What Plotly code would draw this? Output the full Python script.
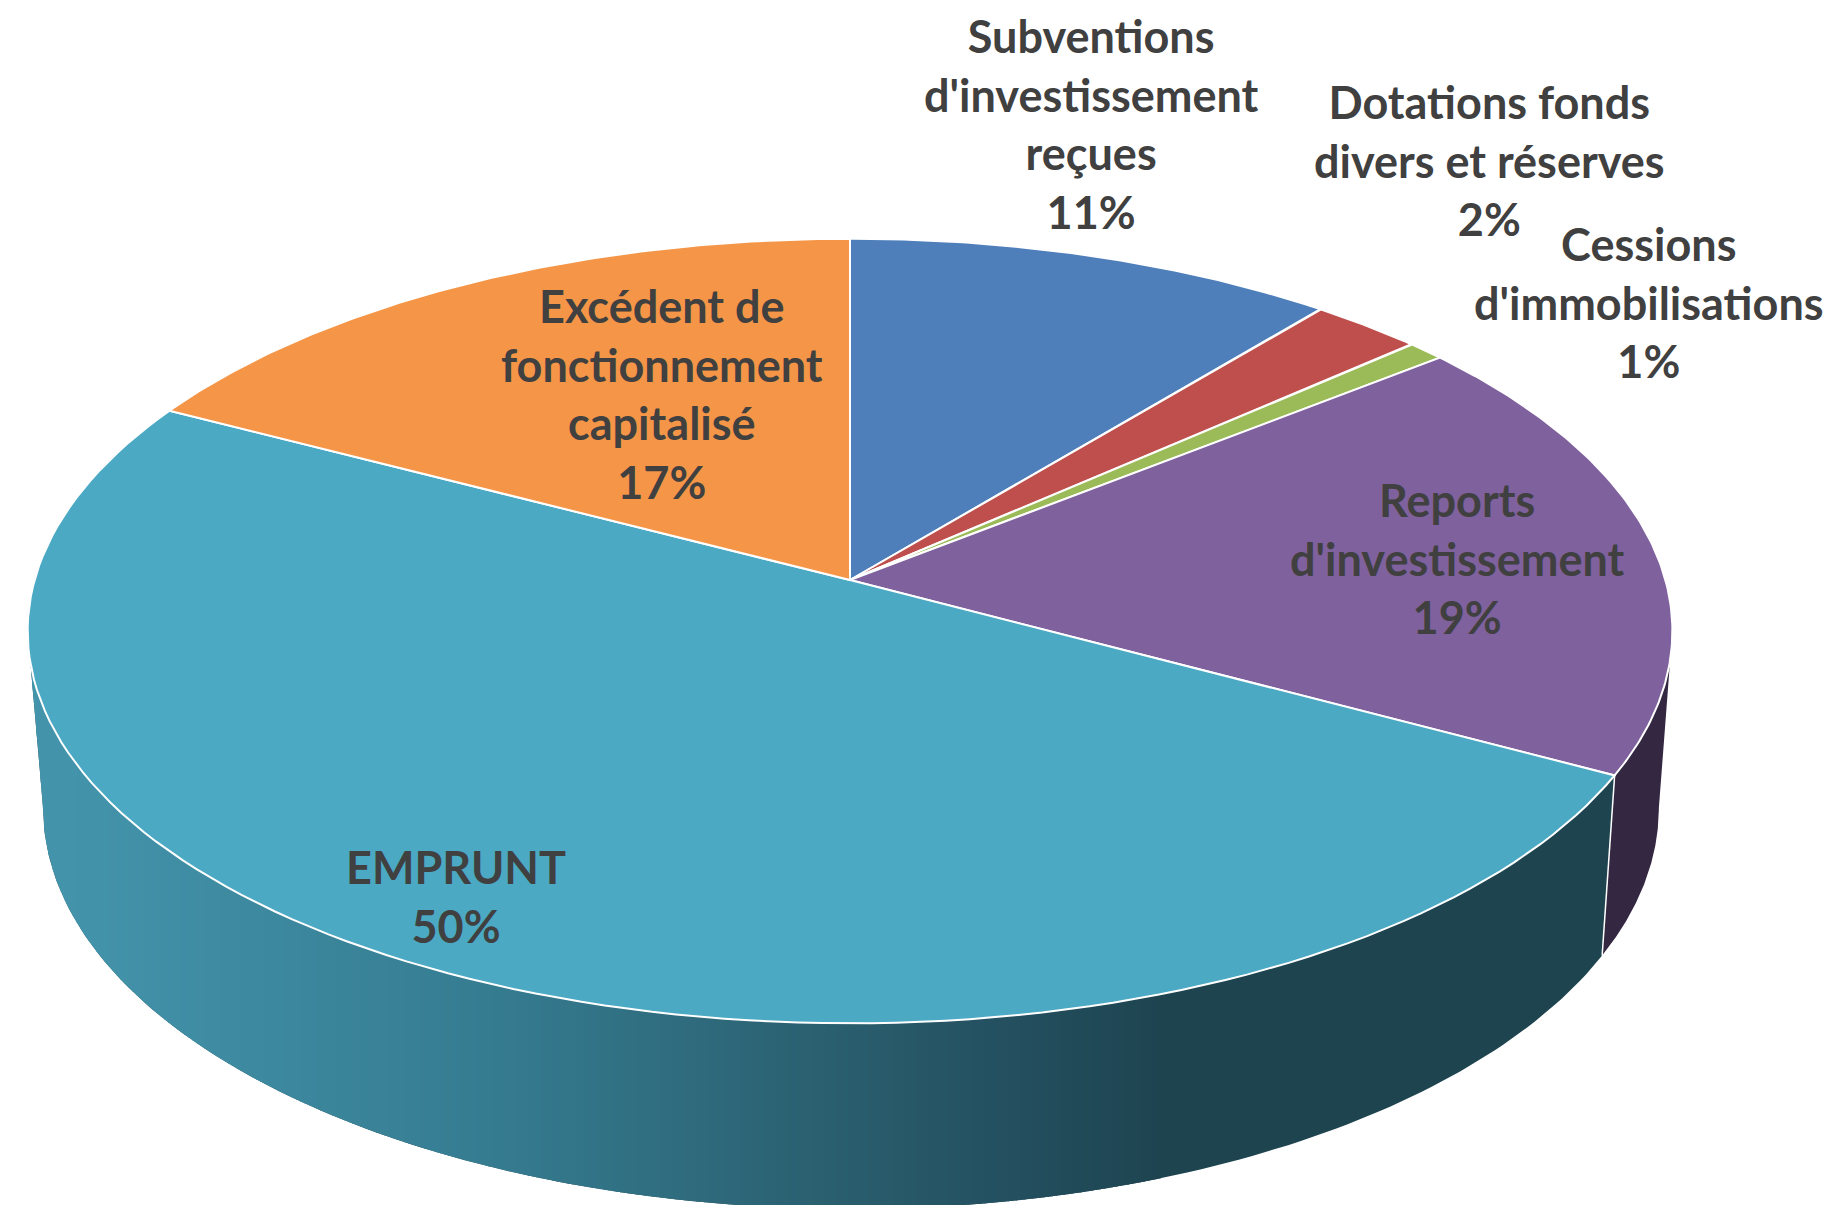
import numpy as np
import plotly.graph_objects as go

# Data (shares of the pie, percent, clockwise from 12 o'clock)
categories = ["Subventions<br>d'investissement<br>reçues", "Dotations fonds<br>divers et réserves",
              "Cessions<br>d'immobilisations", "Reports<br>d'investissement", "EMPRUNT",
              "Excédent de<br>fonctionnement<br>capitalisé"]
values = [10.95, 2.5, 0.85, 18.6, 49.85, 17.3]
colors = ["#4E7FBB", "#BE4F4C", "#9BBB59", "#7F619E", "#4BA9C4", "#F59547"]
wall_colors = ["#2A3F5C", "#5E2726", "#4D5D2C", "#332741", "#1E4450", "#7A4A23"]
label_x = [1091, 1489, 1649, 1457, 456, 662]
label_y = [124, 160, 302, 558, 896, 394]

# Projection of the top and bottom rims of the pie (perspective)
P = 0.13
TOP = dict(cx=850, cy=580, a=815.4, b=385.7)
BOT = dict(cx=851, cy=756, a=801, b=394)


def project(pct, rim=TOP):
    t = np.radians(np.asarray(pct, dtype=float) * 3.6)
    X, Y = np.sin(t), np.cos(t)
    w = 1 + P * Y
    return rim["cx"] + rim["a"] * X / w, rim["cy"] - rim["b"] * Y / w


GRAD_X = [0, 100, 500, 830, 1000, 1160]
GRAD_C = [(0x44, 0x96, 0xAD), (0x42, 0x92, 0xA9), (0x35, 0x7B, 0x90), (0x2A, 0x5F, 0x6F),
          (0x24, 0x50, 0x60), (0x1E, 0x44, 0x50)]


def grad(x):
    c = [int(round(np.interp(x, GRAD_X, [g[i] for g in GRAD_C]))) for i in range(3)]
    return f"rgb({c[0]},{c[1]},{c[2]})"


edges = np.concatenate([[0], np.cumsum(values)])
edges = edges * 100 / edges[-1]

fig = go.Figure()


def poly(xs, ys, fill, line=None, lw=0):
    fig.add_trace(go.Scatter(x=xs, y=ys, mode="lines", fill="toself", fillcolor=fill,
                             line=dict(color=line or fill, width=lw), hoverinfo="skip", showlegend=False))


# Side walls: the part facing the viewer lies between the two tangent points
tangent = np.degrees(np.arccos(-P)) / 3.6
W0, W1 = tangent, 100 - tangent
for i in range(len(values)):
    lo, hi = max(edges[i], W0), min(edges[i + 1], W1)
    if hi <= lo:
        continue
    ts = np.linspace(lo, hi, 160)
    xt, yt = project(ts, TOP)
    xb, yb = project(ts[::-1], BOT)
    poly(list(xt) + list(xb), list(yt) + list(yb), wall_colors[i])
    if i == 4:  # the large slice carries a horizontal shading: vertical strips, right to left
        xt2, yt2 = xt[::-1], yt[::-1]
        low_x = np.concatenate([[xt2[0]], xb])
        low_y = np.concatenate([[yt2[0]], yb])
        stops = np.arange(1160, xt2[0] - 4, -4.0)
        for right, left in zip(stops[:-1], stops[1:]):
            left = max(left, xt2[0])
            sx = np.array([left, (left + right) / 2, right + 1])
            up = np.interp(sx, xt2, yt2)
            dn = np.interp(sx, low_x, low_y)
            poly(list(sx) + list(sx[::-1]), list(up) + list(dn[::-1]), grad((left + right) / 2))

# White edge between the walls
xa, ya = project([edges[4]], TOP)
xc, yc = project([edges[4]], BOT)
fig.add_trace(go.Scatter(x=[xa[0], xc[0]], y=[ya[0], yc[0]], mode="lines",
                         line=dict(color="white", width=1.5), hoverinfo="skip", showlegend=False))

# Top face
for i in range(len(values)):
    ts = np.linspace(edges[i], edges[i + 1], 120)
    xt, yt = project(ts)
    poly([TOP["cx"]] + list(xt) + [TOP["cx"]], [TOP["cy"]] + list(yt) + [TOP["cy"]],
         colors[i], "white", 2)

shown = [f"{round(v)}%" for v in values]
annotations = [
    dict(x=x, y=y, text=f"{c}<br>{s}", showarrow=False, xanchor="center", yanchor="middle",
         align="center", font=dict(family="Lato", size=45, color="#404040", weight=700))
    for c, s, x, y in zip(categories, shown, label_x, label_y)
]

fig.update_layout(
    width=1838, height=1205, margin=dict(l=0, r=0, t=0, b=0),
    paper_bgcolor="white", plot_bgcolor="white", showlegend=False,
    xaxis=dict(range=[0, 1838], visible=False, fixedrange=True),
    yaxis=dict(range=[1205, 0], visible=False, fixedrange=True),
    annotations=annotations,
)
fig.write_html("out.html", config={"displayModeBar": False},
               post_script="document.body.style.margin='0';")
